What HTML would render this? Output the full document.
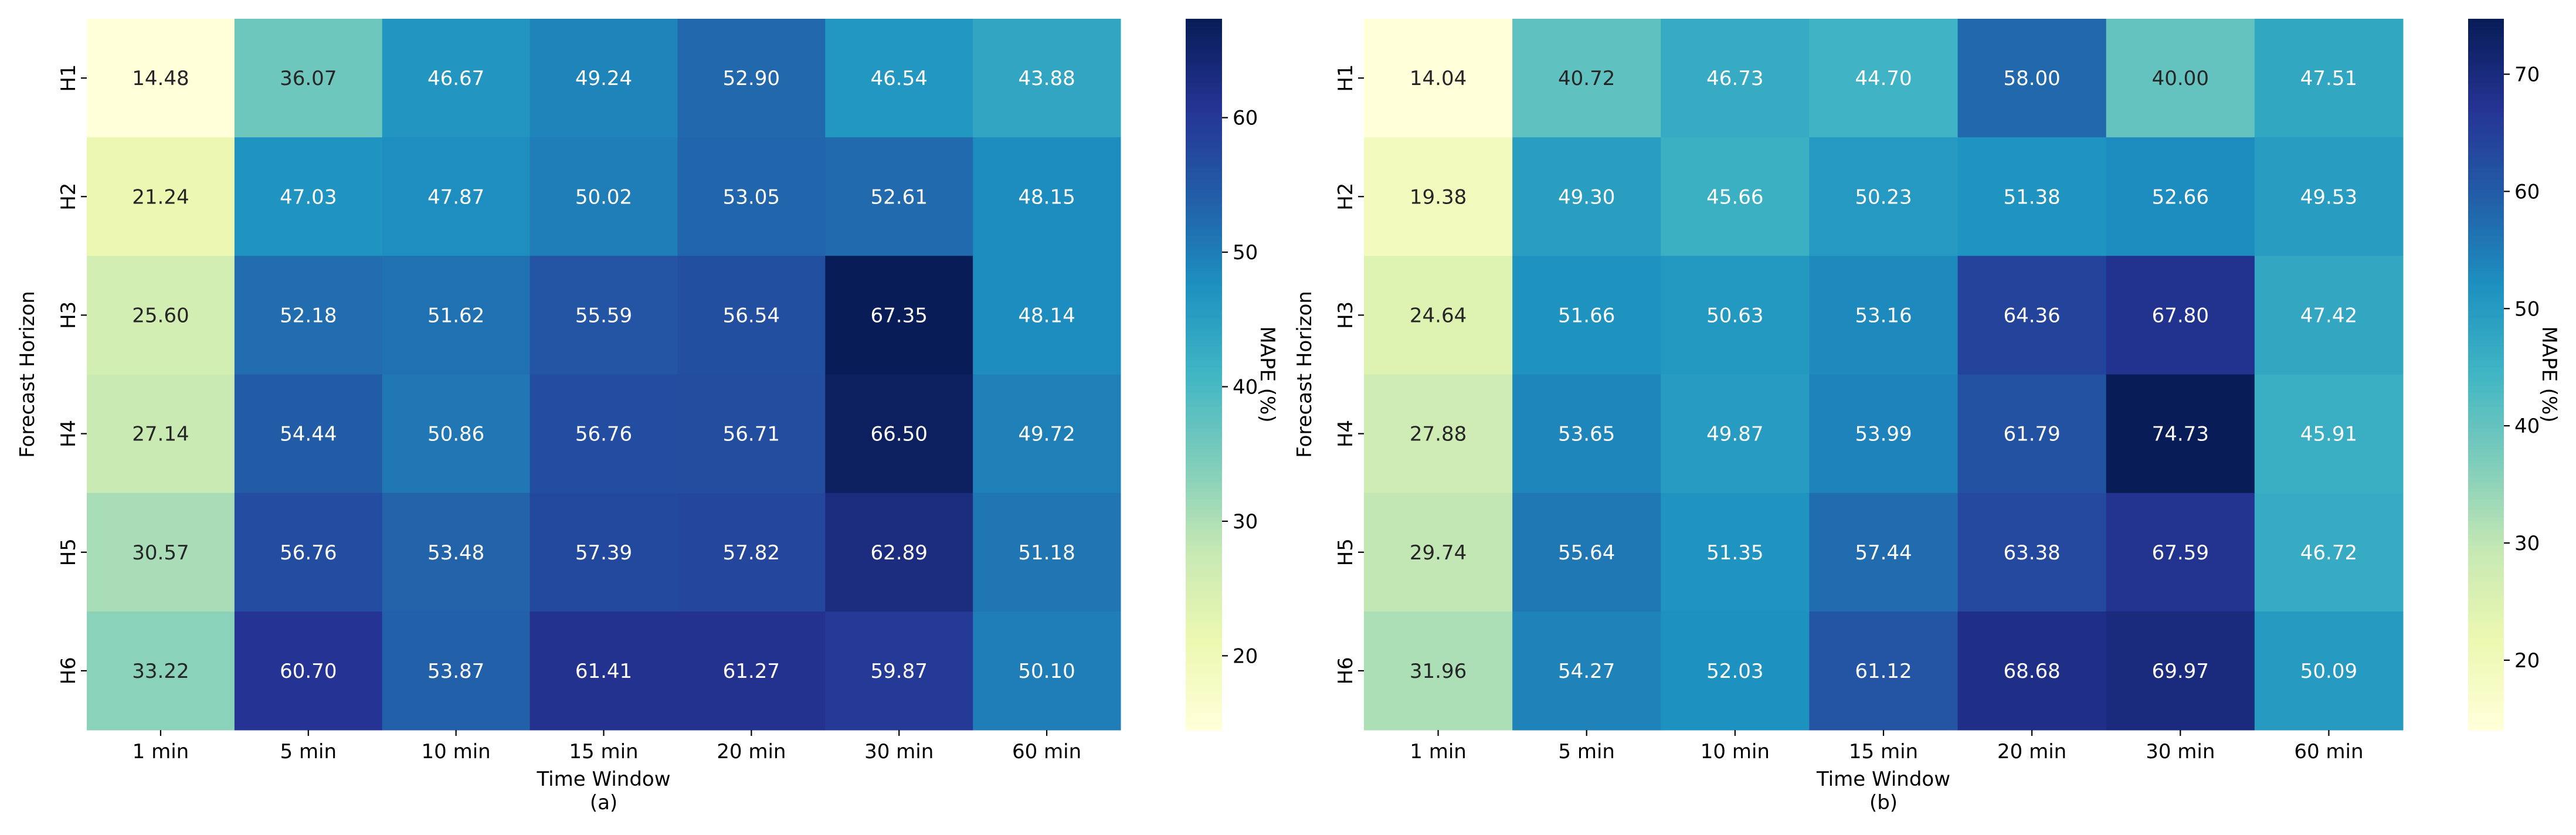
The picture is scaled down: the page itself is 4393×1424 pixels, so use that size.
<!DOCTYPE html>
<html><head><meta charset="utf-8"><style>
html,body{margin:0;padding:0;background:#fff;}
svg{display:block;font-family:"DejaVu Sans","Liberation Sans",sans-serif;}
</style></head><body>
<svg id="chart" width="4393" height="1424" viewBox="0 0 4393 1424" xmlns="http://www.w3.org/2000/svg"></svg>
<script>
const categoriesX = ["1 min","5 min","10 min","15 min","20 min","30 min","60 min"];
const categoriesY = ["H1","H2","H3","H4","H5","H6"];
const valuesA = [
 [14.48,36.07,46.67,49.24,52.90,46.54,43.88],
 [21.24,47.03,47.87,50.02,53.05,52.61,48.15],
 [25.60,52.18,51.62,55.59,56.54,67.35,48.14],
 [27.14,54.44,50.86,56.76,56.71,66.50,49.72],
 [30.57,56.76,53.48,57.39,57.82,62.89,51.18],
 [33.22,60.70,53.87,61.41,61.27,59.87,50.10]
];
const valuesB = [
 [14.04,40.72,46.73,44.70,58.00,40.00,47.51],
 [19.38,49.30,45.66,50.23,51.38,52.66,49.53],
 [24.64,51.66,50.63,53.16,64.36,67.80,47.42],
 [27.88,53.65,49.87,53.99,61.79,74.73,45.91],
 [29.74,55.64,51.35,57.44,63.38,67.59,46.72],
 [31.96,54.27,52.03,61.12,68.68,69.97,50.09]
];
const ticksA = [20,30,40,50,60];
const ticksB = [20,30,40,50,60,70];
const subLabels = ["(a)","(b)"];

const NS="http://www.w3.org/2000/svg";
const svg=document.getElementById('chart');
function mk(tag,attrs,parent){const e=document.createElementNS(NS,tag);for(const k in attrs)e.setAttribute(k,attrs[k]);(parent||svg).appendChild(e);return e;}
const stops=["#ffffd9","#edf8b1","#c7e9b4","#7fcdbb","#41b6c4","#1d91c0","#225ea8","#253494","#081d58"].map(h=>[parseInt(h.substr(1,2),16),parseInt(h.substr(3,2),16),parseInt(h.substr(5,2),16)]);
function cmap(t){t=Math.max(0,Math.min(1,t));const p=t*(stops.length-1);const i=Math.min(stops.length-2,Math.floor(p));const f=p-i;const a=stops[i],b=stops[i+1];return [0,1,2].map(k=>Math.round(a[k]+(b[k]-a[k])*f));}
function lum(c){const l=c.map(v=>{v/=255;return v<=0.03928?v/12.92:Math.pow((v+0.055)/1.055,2.4)});return 0.2126*l[0]+0.7152*l[1]+0.0722*l[2];}

function panel(vals,ticks,sub,x0,x1,cbx0,cbx1,cbLabelX,yLabelX){
  const y0=32,y1=1245;
  const flat=vals.flat();const vmin=Math.min(...flat),vmax=Math.max(...flat);
  const nx=categoriesX.length,ny=categoriesY.length;
  const cw=(x1-x0)/nx,ch=(y1-y0)/ny;
  const xs=i=>x0+i*cw, ys=j=>y0+j*ch;
  const g=mk('g',{});
  
  
  vals.forEach((row,j)=>row.forEach((v,i)=>{
    const c=cmap((v-vmin)/(vmax-vmin));
    const r=mk('rect',{x:xs(i),y:ys(j),width:cw+0.5,height:ch+0.5,fill:`rgb(${c})`},g);
    
    
    const t=mk('text',{x:xs(i)+cw/2,y:ys(j)+ch/2+12,'text-anchor':'middle','font-size':34,fill:lum(c)>0.408?'#262626':'#ffffff'},g);
    t.textContent=v.toFixed(2);
    
    
  }));
  categoriesX.forEach((c,i)=>{
    const cx=xs(i)+cw/2;
    mk('line',{x1:cx,x2:cx,y1:y1,y2:y1+10,stroke:'#000','stroke-width':2.2},g);
    const t=mk('text',{x:cx,y:y1+48,'text-anchor':'middle','font-size':34,fill:'#000'},g);
    t.textContent=c;
    
    
  });
  categoriesY.forEach((c,j)=>{
    const cy=ys(j)+ch/2;
    mk('line',{x1:x0-10,x2:x0,y1:cy,y2:cy,stroke:'#000','stroke-width':2.2},g);
    const t=mk('text',{x:0,y:0,transform:`translate(${x0-20},${cy}) rotate(-90)`,'text-anchor':'middle','font-size':34,fill:'#000'},g);
    t.textContent=c;
    
    
  });
  const xl=mk('text',{x:(x0+x1)/2,y:1340,'text-anchor':'middle','font-size':34,fill:'#000'},g);
  xl.textContent='Time Window';
  
  
  const sl=mk('text',{x:(x0+x1)/2,y:1380,'text-anchor':'middle','font-size':34,fill:'#000'},g);
  sl.textContent=sub;
  
  
  const yl=mk('text',{x:0,y:0,transform:`translate(${yLabelX},${(y0+y1)/2}) rotate(-90)`,'text-anchor':'middle','font-size':34,fill:'#000'},g);
  yl.textContent='Forecast Horizon';
  
  
  // colorbar
  const cb=mk('g',{},g);
  
  
  const N=200;
  for(let k=0;k<N;k++){
    const c=cmap(k/(N-1));
    mk('rect',{x:cbx0,y:y1-(k+1)*(y1-y0)/N,width:cbx1-cbx0,height:(y1-y0)/N+0.8,fill:`rgb(${c})`},cb);
  }
  const cy=v=>y1-(v-vmin)/(vmax-vmin)*(y1-y0);
  ticks.forEach(v=>{
    mk('line',{x1:cbx1,x2:cbx1+10,y1:cy(v),y2:cy(v),stroke:'#000','stroke-width':2.2},cb);
    const t=mk('text',{x:cbx1+18,y:cy(v)+12,'font-size':34,fill:'#000'},cb);
    t.textContent=v;
    
    
  });
  const cl=mk('text',{x:0,y:0,transform:`translate(${cbLabelX},${(y0+y1)/2}) rotate(90)`,'text-anchor':'middle','font-size':34,fill:'#000'},cb);
  cl.textContent='MAPE (%)';
  
  
}
panel(valuesA,ticksA,subLabels[0],148,1911,2022,2084,2150,58);
panel(valuesB,ticksB,subLabels[1],2326,4098,4209,4270,4336,2236);
</script>
</body></html>
